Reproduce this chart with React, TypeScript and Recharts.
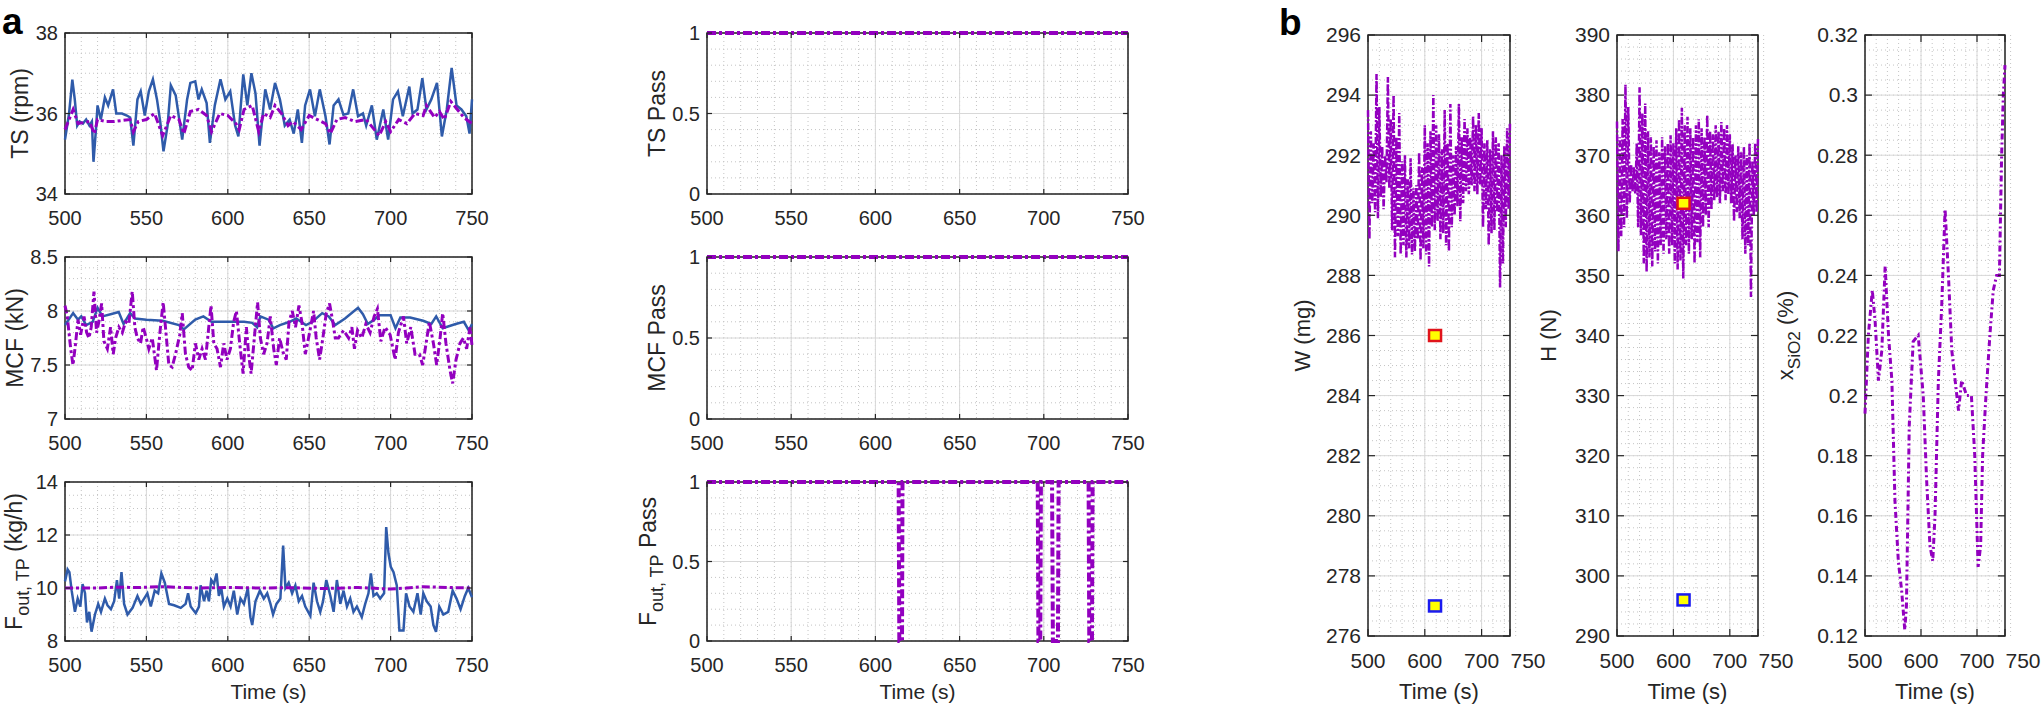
import React from 'react';
import { ComposedChart, Line, XAxis, YAxis, CartesianGrid, ReferenceArea, Scatter } from 'recharts';

const FONT = '"Liberation Sans", Arial, Helvetica, sans-serif';
const AX = '#262626';
const BLUE = '#2F5BAA';
const PURPLE = '#9300BF';

type P = [number, number];

// ---------- shared ticks ----------
const timeTicksA = [500, 550, 600, 650, 700, 750];
const timeTicksB = [500, 600, 700, 750];
const tsTicks = [34, 36, 38];
const mcfTicks = [7, 7.5, 8, 8.5];
const foutTicks = [8, 10, 12, 14];
const passTicks = [0, 0.5, 1];
const wTicks = [276, 278, 280, 282, 284, 286, 288, 290, 292, 294, 296];
const hTicks = [290, 300, 310, 320, 330, 340, 350, 360, 370, 380, 390];
const xsTicks = [0.12, 0.14, 0.16, 0.18, 0.2, 0.22, 0.24, 0.26, 0.28, 0.3, 0.32];

// ---------- TS (rpm) ----------
const tsActual: P[] = [[500,35.35],[502.5,36.0],[504.5,36.84],[506,36.35],[507.5,35.7],[509,35.8],[511,35.75],[513,35.85],[515,35.7],[516.5,35.8],[517.5,34.8],[519,35.6],[520,36.2],[522,35.85],[524.5,36.4],[526.5,36.2],[529.5,36.6],[531.5,36.0],[535,36.0],[538,35.95],[540,35.9],[542,35.2],[544.5,36.35],[546.5,36.55],[549,35.95],[551.5,36.55],[554,36.85],[556.5,36.35],[558.5,35.8],[560.5,35.06],[563,35.7],[565,36.7],[568,36.45],[572,35.35],[575,36.35],[577,36.76],[580,36.8],[582,36.35],[584,36.6],[587,36.26],[589,35.27],[592,36.2],[595.5,36.85],[598.5,36.35],[601.5,36.55],[604.5,35.7],[606.5,35.43],[609.5,36.97],[612,36.2],[614.5,37.0],[617,36.5],[619.5,35.2],[623,36.6],[626,36.1],[629,36.76],[632,36.35],[635,35.7],[638,35.85],[640.5,35.5],[643,36.1],[645.5,35.27],[647.5,36.2],[650.5,36.6],[653.5,35.93],[656.5,36.6],[660,35.93],[662.5,35.23],[665,36.2],[668,36.35],[671,35.97],[674,36.0],[677,36.6],[680,35.93],[683,36.0],[685,35.7],[688.5,36.2],[691.5,35.35],[695.5,36.1],[698.5,35.35],[701.5,36.35],[704.5,36.55],[707.5,35.93],[711.5,36.67],[713.5,36.0],[716.5,36.1],[719.5,36.88],[722,36.1],[725,36.35],[728.5,36.76],[731.5,35.43],[734.5,36.1],[737.5,37.13],[740.5,36.2],[743.5,36.1],[746.5,35.93],[748.5,35.5],[750,36.35]];
const tsSetpoint: P[] = [[500,35.6],[505,36.1],[508,35.75],[515,35.8],[518,35.5],[520,35.85],[525,35.8],[530,35.8],[540,35.85],[542,35.55],[545,35.8],[550,35.85],[555,36.0],[560,35.45],[565,35.95],[570,35.85],[573,35.5],[577,36.05],[582,36.1],[587,35.95],[590,35.55],[595,36.0],[600,35.95],[605,35.75],[607,35.6],[610,36.1],[615,36.2],[619,35.55],[622,36.0],[626,35.9],[629,36.2],[633,36.0],[637,35.7],[640,35.8],[645,35.6],[650,35.95],[655,35.85],[660,35.75],[663,35.5],[667,35.85],[672,35.9],[678,35.8],[685,35.85],[690,35.6],[693,35.45],[697,35.8],[700,35.55],[705,35.85],[710,35.75],[715,36.0],[720,35.95],[722,36.2],[727,35.9],[730,36.05],[733,35.85],[737,36.3],[740,36.15],[745,35.9],[750,35.75]];

// ---------- MCF (kN) ----------
const mcfActual: P[] = [[500,7.87],[505,7.98],[508,7.92],[510,7.95],[513,7.87],[517,7.9],[520,8.03],[523,7.95],[528,7.97],[533,7.99],[536,7.88],[540,7.98],[543,7.93],[550,7.92],[560,7.91],[570,7.87],[573,7.83],[580,7.92],[585,7.95],[590,7.9],[600,7.9],[610,7.9],[615,7.89],[618,7.85],[620,7.95],[625,7.92],[628,7.84],[632,7.87],[638,7.9],[642,7.93],[648,7.87],[652,7.9],[658,7.98],[662,7.95],[666,7.87],[672,7.93],[680,8.03],[683,7.97],[686,7.88],[690,7.92],[693,7.96],[700,7.96],[703,7.84],[706,7.94],[712,7.94],[720,7.91],[725,7.88],[728,7.95],[732,7.84],[740,7.88],[745,7.9],[748,7.82],[750,7.88]];
const mcfSetpoint: P[] = [[500,8.05],[501.4,7.95],[503.5,7.65],[504.9,7.5],[506.5,7.7],[508,7.92],[509.6,7.78],[511.7,7.95],[513.3,7.8],[514.7,7.75],[516.1,7.85],[517.8,8.18],[519.4,7.8],[520.8,7.9],[522.5,8.07],[523.9,7.72],[526,7.65],[528,7.85],[529.6,7.6],[531.1,7.75],[533.1,7.85],[535.2,7.8],[537.2,7.9],[539.2,7.88],[541.3,8.18],[542.9,7.85],[544.4,7.75],[546.4,7.7],[548,7.85],[549.9,7.75],[551.5,7.65],[553.6,7.75],[556.2,7.45],[558.3,7.8],[560.3,8.08],[561.7,7.85],[563.8,7.5],[565.8,7.48],[567.9,7.6],[570.5,7.78],[572,7.98],[574,7.6],[576,7.48],[578.1,7.45],[580.1,7.7],[582.2,7.55],[584.2,7.65],[586.3,7.55],[588.3,7.85],[589.7,8.05],[591.4,7.7],[593.4,7.65],[595.5,7.48],[597.5,7.7],[599.5,7.55],[601.6,7.65],[603.6,7.9],[605.3,8.0],[607.3,7.7],[609.4,7.42],[611.4,7.85],[612.8,7.6],[614.3,7.42],[616.3,7.75],[618.3,8.08],[620,7.75],[622,7.6],[624.1,7.7],[626.1,7.95],[628.2,7.65],[629.8,7.5],[631.8,7.75],[633.9,7.62],[635.9,7.55],[637.6,7.9],[639.6,8.0],[641.6,7.85],[643.7,8.05],[645.5,7.9],[647.6,7.6],[649.6,7.75],[652.7,8.0],[654.3,7.75],[656.4,7.55],[658.4,7.75],[660.5,7.98],[662.5,8.07],[664.5,7.9],[666,7.75],[668,7.75],[671.1,7.82],[674.2,7.75],[676.2,7.85],[677.8,7.65],[679.7,7.82],[682.3,7.75],[684.8,7.88],[687.4,7.8],[689.9,7.95],[691.9,8.02],[694,7.72],[696.6,7.85],[699.7,7.78],[702.8,7.55],[704.8,7.8],[707.9,7.95],[709.9,7.7],[712.4,7.85],[715,7.6],[717.7,7.6],[719.7,7.5],[721.8,7.7],[723.8,7.9],[726.3,7.7],[728.3,7.5],[730.4,7.75],[732,7.98],[734,7.7],[736.5,7.45],[738.1,7.33],[740.2,7.55],[742.6,7.7],[744.7,7.75],[746.7,7.65],[748.8,7.85],[750,7.68]];

// ---------- F_out,TP (kg/h) ----------
const foutActual: P[] = [[500,10.25],[501.6,10.7],[502.7,10.6],[504.1,9.9],[506.1,9.1],[507.8,9.6],[509.4,9.3],[510.8,10.15],[512.3,9.8],[513.5,8.7],[514.9,9.1],[516.3,8.35],[518.4,9.0],[520.4,9.4],[522.1,9.1],[524.5,9.6],[526.1,9.35],[528.2,9.2],[530.2,9.5],[531.9,10.3],[533.3,9.6],[534.7,10.6],[536.3,9.4],[538.4,9.0],[541.5,9.25],[544.5,9.7],[546.6,9.4],[550.6,9.8],[552.7,9.3],[555.1,9.9],[557.2,9.8],[559.2,10.55],[561.3,10.2],[563.9,9.4],[567,9.35],[571.1,9.25],[574.1,9.4],[575.6,9.8],[577.2,9.3],[580.3,9.05],[582.3,9.3],[583.3,10.1],[585.4,9.5],[587,9.9],[588.4,9.5],[589.8,10.3],[591.5,10.15],[593.1,10.55],[594.5,9.7],[596,10.0],[597.6,9.3],[599.7,9.6],[601.7,9.3],[603.7,9.9],[605.8,9.0],[607.8,9.6],[609.9,9.4],[612.3,10.0],[613.9,8.9],[615,8.6],[617,9.5],[619.7,9.9],[622.1,9.6],[624.2,9.8],[626.2,9.4],[627.8,9.0],[629.9,9.4],[632.3,9.6],[634,11.6],[635.4,10.0],[637.4,10.2],[639.5,9.8],[641.5,10.1],[643.6,9.5],[645.6,9.7],[647.6,9.3],[650.7,8.95],[652.7,10.2],[654.8,9.5],[656.8,9.1],[658.5,9.5],[660.5,10.3],[663,9.7],[665,9.1],[667,10.3],[669.1,9.4],[671.1,9.9],[673.2,9.3],[675.2,9.6],[677.2,9.1],[679.3,9.3],[682.3,8.9],[684.4,9.4],[686.4,9.8],[687.9,10.55],[689.5,9.7],[691.5,9.8],[693.6,9.6],[696,9.8],[697.3,12.3],[698.7,11.3],[700.1,10.8],[701.8,10.6],[703.8,10.1],[705.4,8.4],[707.9,8.4],[709.5,9.8],[711.6,9.3],[714,9.1],[716.5,9.8],[718.5,9.0],[720.1,9.8],[722.2,9.5],[724.6,9.3],[726.3,8.6],[727.9,8.35],[729.9,9.3],[732.4,9.0],[735.4,9.1],[738.1,9.9],[740.5,9.6],[743,9.2],[745.6,9.7],[747.7,10.0],[750,9.65]];
const foutSetpoint: P[] = [[500,10.0],[520,10.0],[530,10.03],[545,10.02],[560,10.05],[580,10.0],[600,10.02],[620,10.0],[640,10.01],[660,9.98],[680,10.02],[700,9.96],[710,10.0],[720,10.05],[735,10.02],[750,10.0]];

// ---------- Pass flags ----------
const tsPass: P[] = [[500,1],[750,1]];
const mcfPass: P[] = [[500,1],[750,1]];
const foutPass: P[] = [[500,1],[613.8,1],[614.2,0],[615.8,0],[616.1,1],[696.4,1],[696.8,0],[697.9,0],[698.3,1],[704.9,1],[705.4,0],[708.4,0],[708.8,1],[726.6,1],[727.0,0],[728.6,0],[729.0,1],[750,1]];

// ---------- b: W (mg) ----------
const wSeries: P[] = [[500,293.5],[502.5,289.2],[505,292.8],[507.5,290.4],[510,292.4],[512.5,290.1],[515,294.7],[517.5,289.9],[520,293.6],[522.5,290.6],[525,292.3],[527.5,290.2],[530,292.0],[532.5,291.1],[535,294.6],[537.5,290.9],[540,293.2],[542.5,289.5],[545,294.0],[547.5,288.6],[550,292.6],[552.5,289.3],[555,293.4],[557.5,288.7],[560,291.8],[562.5,289.0],[565,292.0],[567.5,288.6],[570,291.2],[572.5,288.9],[575,291.9],[577.5,288.7],[580,290.9],[582.5,288.8],[585,291.0],[587.5,289.2],[590,292.1],[592.5,288.5],[595,291.6],[597.5,288.9],[600,293.0],[602.5,288.7],[605,292.4],[607.5,288.3],[610,292.8],[612.5,289.6],[615,294.0],[617.5,289.5],[620,293.0],[622.5,289.8],[625,292.7],[627.5,289.2],[630,292.2],[632.5,289.4],[635,293.5],[637.5,289.0],[640,292.4],[642.5,288.8],[645,293.7],[647.5,289.6],[650,292.0],[652.5,290.0],[655,292.3],[657.5,290.3],[660,293.7],[662.5,289.8],[665,292.6],[667.5,290.4],[670,293.2],[672.5,290.8],[675,292.9],[677.5,290.7],[680,292.6],[682.5,291.0],[685,293.3],[687.5,290.8],[690,293.0],[692.5,290.7],[695,293.4],[697.5,291.0],[700,292.9],[702.5,289.6],[705,292.4],[707.5,290.2],[710,292.5],[712.5,289.0],[715,292.2],[717.5,289.4],[720,292.8],[722.5,289.5],[725,292.6],[727.5,290.1],[730,292.4],[732.5,287.6],[735,292.0],[737.5,288.4],[740,292.3],[742.5,289.6],[745,292.9],[747.5,290.2],[750,293.1]];
const wTarget: P[] = [[618, 286]];
const wLower: P[] = [[618, 277]];

// ---------- b: H (N) ----------
const hSeries: P[] = [[500,375.6],[502.5,354.0],[505,373.0],[507.5,356.5],[510,376.0],[512.5,358.0],[515,381.7],[517.5,359.5],[520,378.0],[522.5,362.0],[525,368.5],[527.5,364.0],[530,368.0],[532.5,363.5],[535,372.0],[537.5,358.0],[540,381.3],[542.5,356.7],[545,377.0],[547.5,352.0],[550,378.6],[552.5,350.6],[555,374.0],[557.5,353.0],[560,373.0],[562.5,351.5],[565,371.5],[567.5,354.0],[570,372.5],[572.5,352.0],[575,370.5],[577.5,355.0],[580,373.0],[582.5,353.6],[585,371.5],[587.5,356.0],[590,372.0],[592.5,353.6],[595,373.3],[597.5,355.0],[600,372.0],[602.5,352.0],[605,374.5],[607.5,351.0],[610,376.0],[612.5,352.5],[615,377.9],[617.5,349.5],[620,375.0],[622.5,355.0],[625,376.4],[627.5,353.6],[630,374.5],[632.5,356.0],[635,373.0],[637.5,352.0],[640,375.0],[642.5,355.5],[645,376.0],[647.5,353.0],[650,374.5],[652.5,358.0],[655,373.0],[657.5,360.0],[660,376.7],[662.5,358.0],[665,374.0],[667.5,361.0],[670,373.5],[672.5,362.5],[675,375.0],[677.5,363.0],[680,374.0],[682.5,362.0],[685,375.5],[687.5,364.0],[690,374.5],[692.5,362.5],[695,375.0],[697.5,363.5],[700,373.5],[702.5,362.0],[705,371.8],[707.5,359.0],[710,370.0],[712.5,360.5],[715,371.5],[717.5,359.5],[720,370.5],[722.5,356.0],[725,371.4],[727.5,353.6],[730,370.0],[732.5,355.0],[735,372.0],[737.5,346.4],[740,369.0],[742.5,360.0],[745,372.0],[747.5,360.5],[750,373.0]];
const hTarget: P[] = [[618, 362]];
const hLower: P[] = [[618, 296]];

// ---------- b: x_SiO2 (%) ----------
const xsSeries: P[] = [[500,0.194],[506,0.22],[513,0.235],[518,0.225],[524,0.205],[530,0.215],[536,0.243],[542,0.22],[548,0.205],[553.5,0.165],[559.5,0.145],[565.5,0.135],[571,0.122],[574,0.13],[579,0.19],[586,0.218],[595,0.22],[604,0.2],[610,0.172],[616,0.15],[621,0.145],[625,0.16],[631,0.205],[637,0.23],[643,0.262],[649,0.24],[655,0.215],[661,0.205],[667,0.195],[672.6,0.205],[681.5,0.2],[690,0.2],[696,0.18],[702,0.143],[706.5,0.15],[710,0.18],[716,0.2],[723,0.22],[729,0.235],[735,0.24],[740,0.24],[744,0.28],[747,0.3],[750,0.31]];

// ---------- helpers ----------
const toPts = (a: P[]) => a.map(([t, v]) => ({ t, v }));
const range = (a: number, b: number, s: number) => {
  const out: number[] = [];
  const n = Math.round((b - a) / s);
  for (let i = 0; i <= n; i++) out.push(+(a + i * s).toFixed(6));
  return out;
};

function XTick(props: any) {
  const { x, payload, pt, pb, fs, tl, lb, lastDx } = props;
  const v = payload.value;
  const dx = v === 750 ? lastDx || 0 : 0;
  return (
    <g>
      <line x1={x} x2={x} y1={pb} y2={pb - tl} stroke={AX} strokeWidth={1.2} />
      <line x1={x} x2={x} y1={pt} y2={pt + tl} stroke={AX} strokeWidth={1.2} />
      <text x={x + dx} y={pb + lb} textAnchor="middle" fontSize={fs} fontFamily={FONT} fill={AX}>{v}</text>
    </g>
  );
}

function YTick(props: any) {
  const { y, payload, pl, pr, fs, tl } = props;
  return (
    <g>
      <line x1={pl} x2={pl + tl} y1={y} y2={y} stroke={AX} strokeWidth={1.2} />
      <line x1={pr} x2={pr - tl} y1={y} y2={y} stroke={AX} strokeWidth={1.2} />
      <text x={pl - 7} y={y} dy="0.35em" textAnchor="end" fontSize={fs} fontFamily={FONT} fill={AX}>{payload.value}</text>
    </g>
  );
}

function VLabel(props: any) {
  const { bx, cy, fs, main, sub, rest } = props;
  return (
    <text transform={`translate(${bx},${cy}) rotate(-90)`} textAnchor="middle" fontSize={fs} fontFamily={FONT} fill={AX}>
      {main}
      {sub ? <tspan dy={fs * 0.3} fontSize={fs * 0.78}>{sub}</tspan> : null}
      {rest ? <tspan dy={sub ? -fs * 0.3 : 0}>{rest}</tspan> : null}
    </text>
  );
}

function HLabel(props: any) {
  const { cx, by, fs } = props;
  return <text x={cx} y={by} textAnchor="middle" fontSize={fs} fontFamily={FONT} fill={AX}>Time (s)</text>;
}

function Sq(props: any) {
  const { cx, cy, edge } = props;
  if (cx == null || cy == null) return null;
  return <rect x={cx - 6} y={cy - 5.5} width={12} height={11} fill="#FFFF00" stroke={edge} strokeWidth={2.5} />;
}

type Series = { data: P[]; color: string; width: number; dash?: string };
type Marker = { data: P[]; edge: string };

function Panel(props: {
  left: number; top: number; w: number; h: number; padL: number; padR?: number;
  yDomain: [number, number]; yTicks: number[]; yMinor: number; xTicks: number[]; xMinor: number;
  series: Series[]; markers?: Marker[];
  ylab: { main: string; sub?: string; rest?: string; bx: number };
  timeLabelY?: number; tickFs: number; labFs: number; timeFs: number; tl: number; lb: number; lastDx?: number;
}) {
  const { left, top, w, h, padL, yDomain, yTicks, xTicks, series, markers = [], ylab, timeLabelY, tickFs, labFs, timeFs, tl, lb, lastDx } = props;
  const padR = props.padR ?? 40;
  const padT = 20;
  const padB = 80;
  const ox = left - padL;
  const oy = top - padT;
  const pl = padL, pr = padL + w, pt = padT, pb = padT + h;
  const yMinorVals = range(yDomain[0], yDomain[1], props.yMinor);
  const xMinorVals = range(500, 750, props.xMinor);
  return (
    <div style={{ position: 'absolute', left: ox, top: oy }}>
      <ComposedChart width={padL + w + padR} height={padT + h + padB} margin={{ top: padT, right: padR, bottom: 0, left: 0 }}>
        <CartesianGrid horizontalValues={yMinorVals} verticalValues={xMinorVals} stroke="#c4c4c4" strokeDasharray="1 3" strokeWidth={1} />
        <CartesianGrid horizontalValues={yTicks} verticalValues={xTicks} stroke="#d8d8d8" strokeWidth={1} />
        <XAxis
          dataKey="t" type="number" domain={[500, 750]} ticks={xTicks} interval={0}
          tickLine={false} axisLine={false} height={padB} tickSize={0}
          tick={<XTick pt={pt} pb={pb} fs={tickFs} tl={tl} lb={lb} lastDx={lastDx} />}
          label={timeLabelY ? <HLabel cx={pl + w / 2} by={timeLabelY - oy} fs={timeFs} /> : undefined}
        />
        <YAxis
          type="number" domain={yDomain} ticks={yTicks} interval={0} width={padL}
          tickLine={false} axisLine={false} tickSize={0}
          tick={<YTick pl={pl} pr={pr} fs={tickFs} tl={tl} />}
          label={<VLabel bx={ylab.bx - ox} cy={pt + h / 2} fs={labFs} main={ylab.main} sub={ylab.sub} rest={ylab.rest} />}
        />
        <ReferenceArea x1={500} x2={750} y1={yDomain[0]} y2={yDomain[1]} fill="none" stroke={AX} strokeWidth={1.5} fillOpacity={0} strokeOpacity={1} />
        {series.map((s, i) => (
          <Line key={i} data={toPts(s.data)} dataKey="v" type="linear" dot={false} activeDot={false}
            stroke={s.color} strokeWidth={s.width} strokeDasharray={s.dash} isAnimationActive={false} />
        ))}
        {markers.map((m, i) => (
          <Scatter key={'m' + i} data={toPts(m.data)} dataKey="v" shape={<Sq edge={m.edge} />} isAnimationActive={false} />
        ))}
      </ComposedChart>
    </div>
  );
}

const A1 = { left: 65, w: 407, padL: 65 };
const A2 = { left: 707, w: 421, padL: 100 };
const ROWS = [{ top: 33, h: 161 }, { top: 257, h: 162 }, { top: 482, h: 159 }];
const B = { top: 35, h: 601 };

const aCommon = { xTicks: timeTicksA, xMinor: 10, tickFs: 20, labFs: 23, timeFs: 21, tl: 5, lb: 31 };
const bCommon = { xTicks: timeTicksB, xMinor: 20, tickFs: 21, labFs: 22, timeFs: 22, tl: 7, lb: 32, lastDx: 18, padR: 50 };

const PD = '9 3 3 3';

export default function App() {
  return (
    <div style={{ position: 'absolute', left: 0, top: 0, width: 2041, height: 712, background: '#ffffff', overflow: 'hidden' }}>
      <svg width={2041} height={712} style={{ position: 'absolute', left: 0, top: 0 }}>
        <text x={2} y={34} fontSize={37} fontWeight="bold" fontFamily={FONT} fill="#000">a</text>
        <text x={1279} y={35} fontSize={37} fontWeight="bold" fontFamily={FONT} fill="#000">b</text>
      </svg>

      <Panel {...A1} {...ROWS[0]} {...aCommon} yDomain={[34, 38]} yTicks={tsTicks} yMinor={0.5}
        ylab={{ main: 'TS (rpm)', bx: 28 }}
        series={[{ data: tsActual, color: BLUE, width: 2.5 }, { data: tsSetpoint, color: PURPLE, width: 3, dash: '8 3 3 3' }]} />
      <Panel {...A1} {...ROWS[1]} {...aCommon} yDomain={[7, 8.5]} yTicks={mcfTicks} yMinor={0.1}
        ylab={{ main: 'MCF (kN)', bx: 23 }}
        series={[{ data: mcfActual, color: BLUE, width: 2.5 }, { data: mcfSetpoint, color: PURPLE, width: 3, dash: '8 3 3 3' }]} />
      <Panel {...A1} {...ROWS[2]} {...aCommon} yDomain={[8, 14]} yTicks={foutTicks} yMinor={0.5}
        ylab={{ main: 'F', sub: 'out, TP', rest: ' (kg/h)', bx: 22 }} timeLabelY={699}
        series={[{ data: foutActual, color: BLUE, width: 2.5 }, { data: foutSetpoint, color: PURPLE, width: 3, dash: '8 3 3 3' }]} />

      <Panel {...A2} {...ROWS[0]} {...aCommon} yDomain={[0, 1]} yTicks={passTicks} yMinor={0.1}
        ylab={{ main: 'TS Pass', bx: 665 }}
        series={[{ data: tsPass, color: PURPLE, width: 4, dash: PD }]} />
      <Panel {...A2} {...ROWS[1]} {...aCommon} yDomain={[0, 1]} yTicks={passTicks} yMinor={0.1}
        ylab={{ main: 'MCF Pass', bx: 665 }}
        series={[{ data: mcfPass, color: PURPLE, width: 4, dash: PD }]} />
      <Panel {...A2} {...ROWS[2]} {...aCommon} yDomain={[0, 1]} yTicks={passTicks} yMinor={0.1}
        ylab={{ main: 'F', sub: 'out, TP', rest: ' Pass', bx: 656 }} timeLabelY={699}
        series={[{ data: foutPass, color: PURPLE, width: 4, dash: PD }]} />

      <Panel left={1368} w={142} padL={100} {...B} {...bCommon} yDomain={[276, 296]} yTicks={wTicks} yMinor={0.5}
        ylab={{ main: 'W (mg)', bx: 1310 }} timeLabelY={699}
        series={[{ data: wSeries, color: PURPLE, width: 2.5, dash: '7 2 2 2' }]}
        markers={[{ data: wTarget, edge: '#E0141B' }, { data: wLower, edge: '#1A1AF0' }]} />
      <Panel left={1617} w={141} padL={100} {...B} {...bCommon} yDomain={[290, 390]} yTicks={hTicks} yMinor={2}
        ylab={{ main: 'H (N)', bx: 1556 }} timeLabelY={699}
        series={[{ data: hSeries, color: PURPLE, width: 2.5, dash: '7 2 2 2' }]}
        markers={[{ data: hTarget, edge: '#E0141B' }, { data: hLower, edge: '#1A1AF0' }]} />
      <Panel left={1865} w={140} padL={100} {...B} {...bCommon} yDomain={[0.12, 0.32]} yTicks={xsTicks} yMinor={0.005}
        ylab={{ main: 'x', sub: 'SiO2', rest: ' (%)', bx: 1793 }} timeLabelY={699}
        series={[{ data: xsSeries, color: PURPLE, width: 3, dash: '6 3 2 3' }]} />
    </div>
  );
}
